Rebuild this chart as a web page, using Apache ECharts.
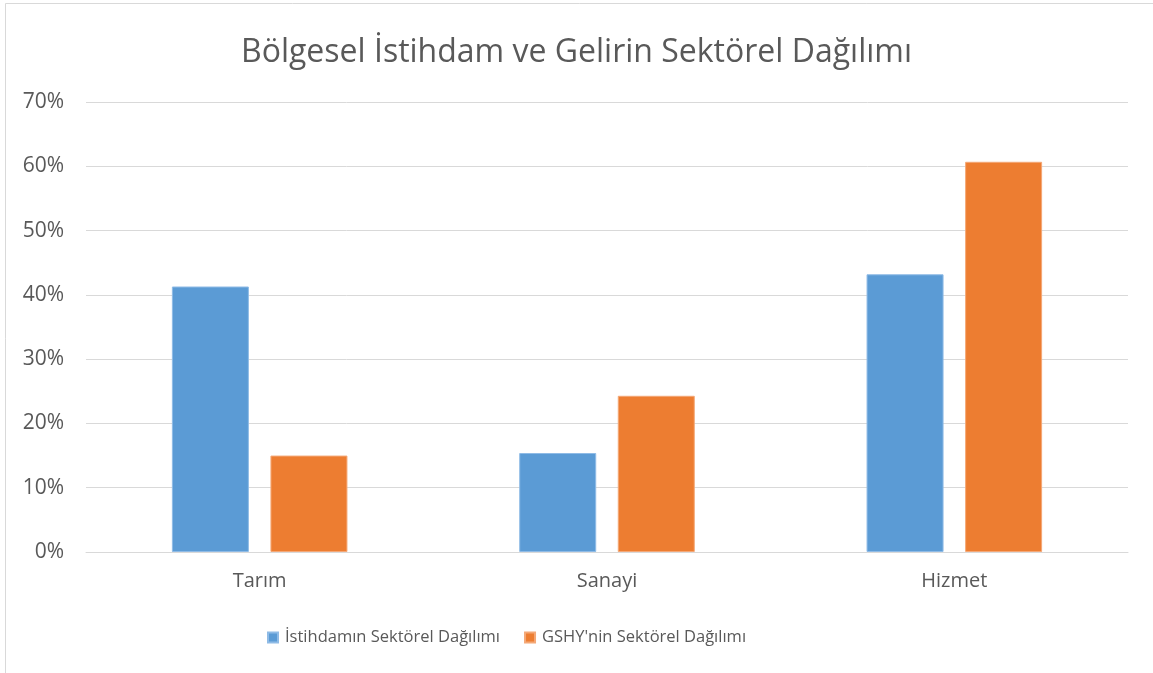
<!DOCTYPE html>
<html><head><meta charset="utf-8">
<script src="https://cdn.jsdelivr.net/npm/echarts@6/dist/echarts.min.js"></script>
<style>html,body{margin:0;padding:0;background:#fff}#c{width:1153px;height:673px}</style>
</head><body><div id="c"></div>
<script>
var title = "Bölgesel İstihdam ve Gelirin Sektörel Dağılımı";
var categories = ["Tarım", "Sanayi", "Hizmet"];
var seriesNames = ["İstihdamın Sektörel Dağılımı", "GSHY'nin Sektörel Dağılımı"];
var istihdam = [41.3, 15.4, 43.2];
var gshy = [15.0, 24.3, 60.7];
var colors = ["#5b9bd5", "#ed7d31"];
var font = "'Open Sans', sans-serif";
var chart = echarts.init(document.getElementById('c'), null, {renderer: 'canvas'});
chart.setOption({
  animation: false,
  backgroundColor: '#fff',
  title: {text: title, left: 'center', top: 32,
    textStyle: {fontFamily: font, fontSize: 32, fontWeight: 'normal', color: '#595959'}},
  graphic: [{type: 'rect', shape: {x: 5.5, y: 3.5, width: 1200, height: 700},
    style: {fill: 'none', stroke: '#d9d9d9', lineWidth: 1}, silent: true}],
  grid: {left: 86, right: 25, top: 102, bottom: 121, containLabel: false},
  legend: {top: 629, left: 267, padding: 0, itemWidth: 10, itemHeight: 10, itemGap: 24,
    icon: 'rect', data: seriesNames,
    textStyle: {fontFamily: font, fontSize: 16.5, color: '#595959', padding: [0,0,0,2]}},
  xAxis: {type: 'category', data: categories,
    axisLine: {lineStyle: {color: '#d9d9d9'}}, axisTick: {show: false},
    axisLabel: {fontFamily: font, fontSize: 20, color: '#595959', margin: 19}},
  yAxis: {type: 'value', min: 0, max: 70, interval: 10,
    axisLine: {show: false}, axisTick: {show: false},
    splitLine: {lineStyle: {color: '#d9d9d9', width: 1}},
    axisLabel: {fontFamily: font, fontSize: 21, color: '#595959', margin: 22,
      formatter: function(v){return v + '%';}}},
  series: [
    {name: seriesNames[0], type: 'bar', data: istihdam, barWidth: 77, barGap: '28%',
     itemStyle: {color: colors[0], borderColor: '#8fbbe6', borderWidth: 1}},
    {name: seriesNames[1], type: 'bar', data: gshy, barWidth: 77,
     itemStyle: {color: colors[1], borderColor: '#f4a877', borderWidth: 1}}
  ]
});
</script></body></html>
